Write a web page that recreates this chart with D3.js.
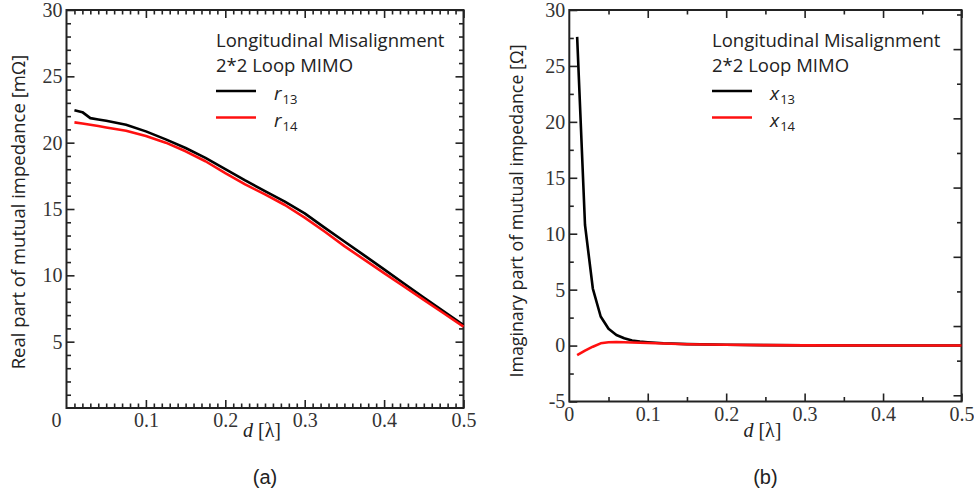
<!DOCTYPE html>
<html>
<head>
<meta charset="utf-8">
<script src="https://cdn.jsdelivr.net/npm/d3@7"></script>
<style>
  body { margin: 0; background: #fff; }
  svg { display: block; }
</style>
</head>
<body>
<div id="chart"></div>
<script>
// Panel (a): real part of mutual impedance [mOhm] vs d [lambda]
const distR = [0.01, 0.02, 0.03, 0.04, 0.05, 0.075, 0.1, 0.125, 0.15, 0.175, 0.2, 0.225, 0.25,
               0.275, 0.3, 0.325, 0.35, 0.375, 0.4, 0.425, 0.45, 0.475, 0.5];
const r13 = [22.45, 22.3, 21.85, 21.75, 21.65, 21.35, 20.85, 20.25, 19.6, 18.85, 18.0, 17.15, 16.35,
             15.55, 14.67, 13.6, 12.55, 11.5, 10.45, 9.38, 8.33, 7.28, 6.25];
const r14 = [21.53, 21.45, 21.35, 21.25, 21.15, 20.9, 20.5, 20.0, 19.35, 18.6, 17.7, 16.85, 16.1,
             15.3, 14.35, 13.3, 12.2, 11.18, 10.17, 9.16, 8.15, 7.14, 6.13];

// Panel (b): imaginary part of mutual impedance [Ohm] vs d [lambda]
const distX = [0.01, 0.02, 0.03, 0.04, 0.05, 0.06, 0.07, 0.08, 0.09, 0.1, 0.12, 0.15, 0.2, 0.25,
               0.3, 0.4, 0.5];
const x13 = [27.6, 10.8, 5.1, 2.6, 1.5, 0.95, 0.65, 0.45, 0.36, 0.3, 0.21, 0.13, 0.07, 0.04,
             0.02, 0.01, 0.0];
const x14 = [-0.85, -0.45, -0.1, 0.2, 0.3, 0.32, 0.3, 0.28, 0.25, 0.23, 0.18, 0.12, 0.07, 0.04,
             0.02, 0.01, 0.0];

// tick labels
const dTicks = [0.1, 0.2, 0.3, 0.4, 0.5];
const realTicks = [5, 10, 15, 20, 25, 30];
const imagTicks = [-5, 0, 5, 10, 15, 20, 25, 30];

const legendTitle = ["Longitudinal Misalignment", "2*2 Loop MIMO"];

const width = 974, height = 494;
const svg = d3.select("#chart").append("svg")
  .attr("width", width).attr("height", height);

svg.append("rect").attr("width", width).attr("height", height).attr("fill", "#fff");

const serif = "'Liberation Serif', 'Times New Roman', serif";
const sans = "'Open Sans', 'Liberation Sans', sans-serif";
const axisColor = "#222";
const tickFont = 20;

function drawPanel(p) {
  const x = d3.scaleLinear().domain([0, 0.5]).range([p.left, p.right]);
  const y = d3.scaleLinear().domain(p.yDomain).range([p.bottom, p.top]);
  const g = svg.append("g");

  // minor ticks all round, inward
  const minX = d3.range(0, 0.5001, p.xMinor).filter(v => Math.abs(v / 0.1 - Math.round(v / 0.1)) > 1e-6);
  const minY = d3.range(p.yDomain[0], p.yDomain[1] + 0.001, p.yMinor).filter(v => v % 5 !== 0);

  const addAxis = (axis, tf) => {
    const a = g.append("g").attr("transform", tf).call(axis);
    a.select(".domain").remove();
    a.selectAll(".tick line").attr("stroke", axisColor).attr("stroke-width", 1.6);
    return a;
  };

  addAxis(d3.axisBottom(x).tickValues(minX).tickSize(-4.5).tickFormat(""), `translate(0,${p.bottom})`);
  addAxis(d3.axisTop(x).tickValues(minX).tickSize(-4.5).tickFormat(""), `translate(0,${p.top})`);
  addAxis(d3.axisLeft(y).tickValues(minY).tickSize(-4.5).tickFormat(""), `translate(${p.left},0)`);

  // major ticks
  const xb = addAxis(d3.axisBottom(x).tickValues(dTicks).tickSize(-8).tickPadding(p.xPad)
    .tickFormat(d => d3.format(".1f")(d)), `translate(0,${p.bottom})`);
  addAxis(d3.axisTop(x).tickValues(dTicks).tickSize(-8).tickFormat(""), `translate(0,${p.top})`);
  const yl = addAxis(d3.axisLeft(y).tickValues(p.yTicks).tickSize(-8).tickPadding(4)
    .tickFormat(d => String(d)), `translate(${p.left},0)`);

  // right axis
  if (p.rightScale) {
    const y2 = d3.scaleLinear().domain(p.rightScale).range([p.bottom, p.top]);
    const t2 = d3.range(0, 12);
    addAxis(d3.axisRight(y2).tickValues(t2.filter(v => v % 2 === 1)).tickSize(-4.5).tickFormat(""),
      `translate(${p.right},0)`);
    addAxis(d3.axisRight(y2).tickValues(t2.filter(v => v % 2 === 0)).tickSize(-8).tickFormat(""),
      `translate(${p.right},0)`);
  } else {
    addAxis(d3.axisRight(y).tickValues(minY).tickSize(-4.5).tickFormat(""), `translate(${p.right},0)`);
    addAxis(d3.axisRight(y).tickValues(p.yTicks).tickSize(-8).tickFormat(""), `translate(${p.right},0)`);
  }

  [xb, yl].forEach(a => a.selectAll("text")
    .attr("font-family", serif).attr("font-size", tickFont).attr("fill", "#333"));

  // "0" label at origin
  g.append("text")
    .attr("x", x(0) + p.zeroDx).attr("y", p.bottom + p.xPad + 0.71 * tickFont)
    .attr("text-anchor", "middle")
    .attr("font-family", serif).attr("font-size", tickFont).attr("fill", "#333")
    .text("0");

  // frame
  g.append("rect")
    .attr("x", p.left).attr("y", p.top)
    .attr("width", p.right - p.left).attr("height", p.bottom - p.top)
    .attr("fill", "none").attr("stroke", axisColor).attr("stroke-width", 2);

  // curves
  const line = d3.line().x(d => x(d[0])).y(d => y(d[1]));
  g.append("path").datum(d3.zip(p.dist, p.s1))
    .attr("d", line).attr("fill", "none").attr("stroke", "#000").attr("stroke-width", 2.6)
    .attr("stroke-linejoin", "round");
  g.append("path").datum(d3.zip(p.dist, p.s2))
    .attr("d", line).attr("fill", "none").attr("stroke", "#ff1010").attr("stroke-width", 2.6)
    .attr("stroke-linejoin", "round");

  // y label
  g.append("text")
    .attr("transform", `translate(${p.yLabelX},${p.yLabelY}) rotate(-90)`)
    .attr("text-anchor", "middle")
    .attr("font-family", sans).attr("font-size", p.yLabelSize).attr("fill", "#222")
    .text(p.yLabel);

  // x label
  const xt = g.append("text")
    .attr("x", (p.left + p.right) / 2 - 3).attr("y", 437)
    .attr("text-anchor", "middle")
    .attr("font-family", serif).attr("font-size", 20).attr("fill", "#222");
  xt.append("tspan").attr("font-style", "italic").text("d");
  xt.append("tspan").text(" [λ]");

  // panel tag
  g.append("text")
    .attr("x", (p.left + p.right) / 2).attr("y", 484)
    .attr("text-anchor", "middle")
    .attr("font-family", "'Liberation Sans', Arial, sans-serif").attr("font-size", 20)
    .attr("fill", "#222")
    .text(p.tag);

  // legend
  legendTitle.forEach((t, i) => {
    g.append("text")
      .attr("x", p.legendX).attr("y", 47 + i * 25)
      .attr("font-family", sans).attr("font-size", 18.5).attr("fill", "#222")
      .text(t);
  });
  [["#000", p.sym, "13"], ["#ff1010", p.sym, "14"]].forEach((e, i) => {
    const ly = 91 + i * 26.5;
    g.append("line")
      .attr("x1", p.legendX).attr("x2", p.legendX + 40)
      .attr("y1", ly).attr("y2", ly)
      .attr("stroke", e[0]).attr("stroke-width", 2.6);
    const lt = g.append("text")
      .attr("x", p.legendX + 58).attr("y", ly + 9)
      .attr("font-family", sans).attr("font-size", 19).attr("fill", "#222");
    lt.append("tspan").attr("font-style", "italic").text(e[1]);
    lt.append("tspan").attr("font-size", 13).attr("dy", 4).attr("dx", 1).text(e[2]);
  });
}

drawPanel({
  left: 66.5, right: 463.5, top: 10, bottom: 408,
  yDomain: [0, 30], yTicks: realTicks, xMinor: 0.01, yMinor: 1,
  dist: distR, s1: r13, s2: r14, xPad: 5, zeroDx: -10,
  yLabel: "Real part of mutual impedance [mΩ]", yLabelX: 25, yLabelY: 212, yLabelSize: 18.5,
  tag: "(a)", legendX: 216, sym: "r"
});

drawPanel({
  left: 569.3, right: 961.5, top: 10, bottom: 401.5,
  yDomain: [-5, 30], yTicks: imagTicks, xMinor: 0.05, yMinor: 2.5,
  dist: distX, s1: x13, s2: x14, xPad: 5, zeroDx: 0,
  rightScale: [-0.18, 11.13],
  yLabel: "Imaginary part of mutual impedance [Ω]", yLabelX: 523, yLabelY: 211, yLabelSize: 17.8,
  tag: "(b)", legendX: 712, sym: "x"
});
</script>
</body>
</html>
